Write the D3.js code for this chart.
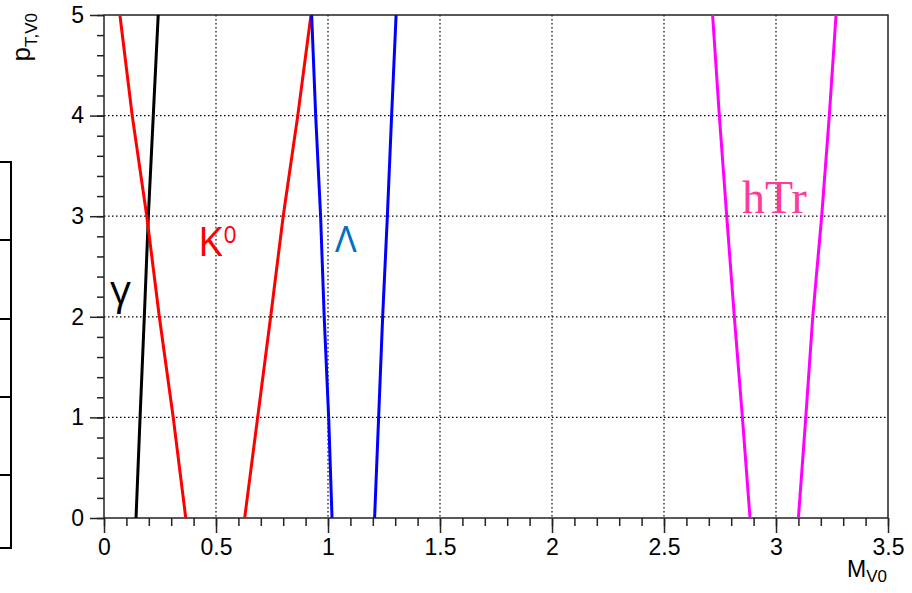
<!DOCTYPE html>
<html>
<head>
<meta charset="utf-8">
<script src="https://cdn.jsdelivr.net/npm/d3@7"></script>
<style>
  body { margin: 0; background: #fff; }
  svg { display: block; }
  .tick text { font-family: "Liberation Sans", Arial, sans-serif; font-size: 23px; fill: #000; }
  .tick line { stroke: #222; stroke-width: 1.5; }
</style>
</head>
<body>
<div id="viz-container"></div>
<script>
const ptLevels = [0, 1, 2, 3, 4, 5];

// mass cut boundaries (M_V0) at each pT level
const gammaCut = [0.143, 0.161, 0.180, 0.198, 0.220, 0.242];
const k0Low = [0.365, 0.309, 0.247, 0.191, 0.126, 0.071];
const k0High = [0.628, 0.686, 0.744, 0.800, 0.865, 0.924];
const lambdaLow = [1.018, 1.003, 0.983, 0.967, 0.945, 0.927];
const lambdaHigh = [1.208, 1.226, 1.244, 1.265, 1.284, 1.304];
const hTrLow = [2.884, 2.850, 2.814, 2.780, 2.747, 2.717];
const hTrHigh = [3.100, 3.133, 3.164, 3.204, 3.238, 3.268];

const xTicks = [0, 0.5, 1, 1.5, 2, 2.5, 3, 3.5];
const yTicks = [0, 1, 2, 3, 4, 5];

const drawChart = () => {
    const width = 912;
    const height = 593;

    const svg = d3.select('#viz-container')
        .append("svg")
        .attr("width", width)
        .attr("height", height);

    // plot frame in pixels
    const left = 104, right = 888, top = 15, bottom = 518;

    const x = d3.scaleLinear().domain([0, 3.5]).range([left, right]);
    const y = d3.scaleLinear().domain([0, 5]).range([bottom, top]);

    // partial box sticking in from the left edge
    const box = svg.append("g").attr("class", "side-box");
    const boxRows = [162, 240, 319, 397, 475, 548];
    box.append("rect")
        .attr("x", -20).attr("y", 162)
        .attr("width", 31).attr("height", 548 - 162)
        .attr("fill", "none").attr("stroke", "#000").attr("stroke-width", 2);
    box.selectAll("line")
        .data(boxRows.slice(1, -1))
        .join("line")
        .attr("x1", 0).attr("x2", 11)
        .attr("y1", d => d).attr("y2", d => d)
        .attr("stroke", "#000").attr("stroke-width", 2);

    // dotted grid
    const grid = svg.append("g").attr("class", "grid")
        .attr("stroke", "#000").attr("stroke-width", 1.2)
        .attr("stroke-dasharray", "1.5,2.5");
    grid.selectAll("line.gx")
        .data(xTicks.filter(d => d > 0 && d < 3.5))
        .join("line").attr("class", "gx")
        .attr("x1", d => x(d)).attr("x2", d => x(d))
        .attr("y1", top).attr("y2", bottom);
    grid.selectAll("line.gy")
        .data(yTicks.filter(d => d > 0 && d < 5))
        .join("line").attr("class", "gy")
        .attr("y1", d => y(d)).attr("y2", d => y(d))
        .attr("x1", left).attr("x2", right);

    // minor ticks
    const xMinor = d3.range(0, 3.5001, 0.1);
    const yMinor = d3.range(0, 5.0001, 0.2);
    svg.append("g")
        .attr("transform", `translate(0,${bottom})`)
        .call(d3.axisBottom(x).tickValues(xMinor).tickSize(8).tickFormat(""))
        .call(g => g.select(".domain").remove());
    svg.append("g")
        .attr("transform", `translate(${left},0)`)
        .call(d3.axisLeft(y).tickValues(yMinor).tickSize(7).tickFormat(""))
        .call(g => g.select(".domain").remove());

    // major ticks and labels
    svg.append("g")
        .attr("transform", `translate(0,${bottom})`)
        .call(d3.axisBottom(x).tickValues(xTicks).tickSize(15).tickPadding(6)
            .tickFormat(d => String(d)))
        .call(g => g.select(".domain").remove());
    svg.append("g")
        .attr("transform", `translate(${left},0)`)
        .call(d3.axisLeft(y).tickValues(yTicks).tickSize(14).tickPadding(6)
            .tickFormat(d => String(d)))
        .call(g => g.select(".domain").remove());

    // frame
    svg.append("rect")
        .attr("x", left).attr("y", top)
        .attr("width", right - left).attr("height", bottom - top)
        .attr("fill", "none").attr("stroke", "#222").attr("stroke-width", 1.5);

    // cut lines
    const cuts = [
        { v: gammaCut, color: "#000000" },
        { v: k0Low, color: "#ff0000" },
        { v: k0High, color: "#ff0000" },
        { v: lambdaLow, color: "#0000ff" },
        { v: lambdaHigh, color: "#0000ff" },
        { v: hTrLow, color: "#ff00ff" },
        { v: hTrHigh, color: "#ff00ff" },
    ];
    const line = d3.line()
        .x(d => x(d[0]))
        .y(d => y(d[1]));
    svg.append("g").attr("class", "cuts")
        .selectAll("path")
        .data(cuts)
        .join("path")
        .attr("d", d => line(d.v.map((m, i) => [m, ptLevels[i]])))
        .attr("fill", "none")
        .attr("stroke", d => d.color)
        .attr("stroke-width", 3);

    // labels for each particle
    svg.append("text")
        .attr("x", 110).attr("y", 304)
        .attr("font-family", "Open Sans, sans-serif").attr("font-size", 41)
        .attr("fill", "#000").text("γ");

    const k0 = svg.append("text")
        .attr("x", 198).attr("y", 256)
        .attr("font-family", "Open Sans, sans-serif").attr("font-size", 40)
        .attr("fill", "#ff0000");
    k0.append("tspan").text("K");
    k0.append("tspan").attr("font-size", 23).attr("dy", -13).attr("dx", 1).text("0");

    svg.append("text")
        .attr("x", 335).attr("y", 252)
        .attr("font-family", "Open Sans, sans-serif").attr("font-size", 36)
        .attr("fill", "#0070c0").text("Λ");

    svg.append("text")
        .attr("x", 742).attr("y", 213)
        .attr("font-family", "Liberation Serif, Times New Roman, serif").attr("font-size", 46)
        .attr("fill", "#ff3b9a").text("hTr");

    // axis titles
    const yt = svg.append("text")
        .attr("transform", "translate(30,13) rotate(-90)")
        .attr("text-anchor", "end")
        .attr("font-family", "Liberation Sans, Arial, sans-serif").attr("font-size", 26);
    yt.append("tspan").text("p");
    yt.append("tspan").attr("font-size", 17).attr("dy", 7).text("T,V0");

    const xt = svg.append("text")
        .attr("x", 887).attr("y", 577)
        .attr("text-anchor", "end")
        .attr("font-family", "Liberation Sans, Arial, sans-serif").attr("font-size", 23);
    xt.append("tspan").text("M");
    xt.append("tspan").attr("font-size", 17).attr("dy", 5).text("V0");
};

drawChart();
</script>
</body>
</html>
